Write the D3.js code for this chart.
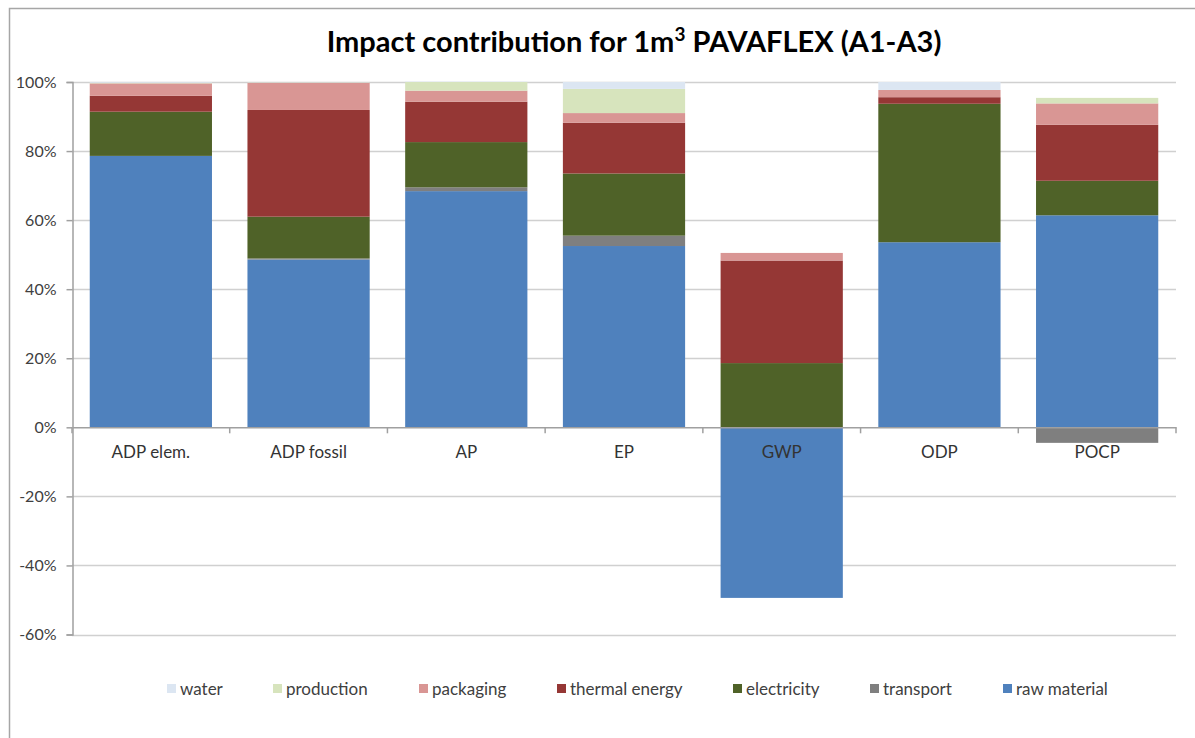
<!DOCTYPE html>
<html><head><meta charset="utf-8">
<script src="https://cdn.jsdelivr.net/npm/d3@7/dist/d3.min.js"></script>
<style>body{margin:0;background:#fff}svg{display:block}</style>
</head><body><svg id="c" width="1195" height="738"></svg>
<script>
const categories = ["ADP elem.","ADP fossil","AP","EP","GWP","ODP","POCP"];
const seriesNames = ["raw material","transport","electricity","thermal energy","packaging","production","water"];
const rawMaterial   = [78.6, 48.6, 68.4, 52.5, -49.4, 53.6, 61.4];
const transport     = [0.0,  0.3,  1.1,  3.0,  0.0,   0.0,  -4.5];
const electricity   = [12.8, 12.1, 13.1, 18.0, 18.6,  40.1, 10.0];
const thermalEnergy = [4.6,  30.9, 11.7, 14.7, 29.7,  1.9,  16.2];
const packaging     = [3.6,  7.9,  3.2,  2.8,  2.2,   2.1,  6.2];
const production    = [0.2,  0.1,  2.5,  7.0,  0.0,   0.0,  1.6];
const water         = [0.2,  0.1,  0.1,  2.0,  0.0,   2.3,  0.0];
const yTicks = [-60,-40,-20,0,20,40,60,80,100];
const legendOrder = ["water","production","packaging","thermal energy","electricity","transport","raw material"];
const colors = {"raw material":"#4F81BD","transport":"#7F7F7F","electricity":"#4F6228","thermal energy":"#953735","packaging":"#D99694","production":"#D7E4BD","water":"#DCE6F2"};

const seriesVals = [rawMaterial, transport, electricity, thermalEnergy, packaging, production, water];
const table = categories.map((c,i)=>{const o={cat:c}; seriesNames.forEach((s,j)=>o[s]=seriesVals[j][i]); return o;});

const svg = d3.select("#c");
const font = "Lato, 'Open Sans', sans-serif";
// outer frame
svg.append("path").attr("d","M9.5,738 V8.5 H1195").attr("fill","none").attr("stroke","#A6A6A6").attr("stroke-width",1.5);

const L=72, R=1176, T=82, B=634.5;
const x = d3.scaleBand().domain(categories).range([L,R]).paddingInner(0.225).paddingOuter(0.1125);
const y = d3.scaleLinear().domain([-60,100]).range([B,T]);

// gridlines
svg.append("g").selectAll("line").data(yTicks.filter(t=>t!==0)).join("line")
  .attr("x1",L).attr("x2",R).attr("y1",d=>Math.round(y(d))+0.5).attr("y2",d=>Math.round(y(d))+0.5)
  .attr("stroke","#D0D0D0").attr("stroke-width",1.5);

// bars
const stack = d3.stack().keys(seriesNames).offset(d3.stackOffsetDiverging);
const layers = stack(table);
svg.append("g").selectAll("g").data(layers).join("g").attr("fill",d=>colors[d.key])
  .selectAll("rect").data(d=>d).join("rect")
  .attr("x",d=>x(d.data.cat)).attr("width",x.bandwidth())
  .attr("y",d=>y(Math.max(d[0],d[1]))).attr("height",d=>Math.abs(y(d[0])-y(d[1])));

// y axis
const yAxis = d3.axisLeft(y).tickValues(yTicks).tickFormat(d=>d+"%").tickSize(6).tickPadding(10);
const gy = svg.append("g").attr("transform",`translate(${L+0.5},0)`).call(yAxis);
gy.select(".domain").attr("stroke","#A0A0A0").attr("stroke-width",1.5);
gy.selectAll(".tick line").attr("stroke","#A0A0A0").attr("stroke-width",1.5);
gy.selectAll("text").attr("font-family",font).attr("font-size",16).attr("fill","#404040");

// x axis at 0
const xAxis = d3.axisBottom(x).tickSize(0).tickPadding(19);
const gx = svg.append("g").attr("transform",`translate(0,${y(0)})`).call(xAxis);
gx.select(".domain").attr("stroke","#A0A0A0").attr("stroke-width",1.5);
gx.selectAll("text").attr("font-family",font).attr("font-size",17).attr("fill","#333");
// category boundary ticks
const bounds = categories.map(c=>x(c)-x.step()*x.paddingInner()/2).concat([R]);
svg.append("g").selectAll("line").data(bounds).join("line")
  .attr("x1",d=>d).attr("x2",d=>d).attr("y1",y(0)).attr("y2",y(0)+6)
  .attr("stroke","#A0A0A0").attr("stroke-width",1.5);

// title
const title = svg.append("text").attr("x",634).attr("y",52).attr("text-anchor","middle")
  .attr("font-family",font).attr("font-weight","bold").attr("font-size",29).attr("fill","#000");
title.append("tspan").text("Impact contribution for 1m");
title.append("tspan").text("3").attr("font-size",19).attr("dy",-11);
title.append("tspan").text(" PAVAFLEX (A1-A3)").attr("dy",11);

// legend
const legX = [167,273,419,557,733,870,1003];
const lg = svg.append("g").selectAll("g").data(legendOrder).join("g")
  .attr("transform",(d,i)=>`translate(${legX[i]},689)`);
lg.append("rect").attr("x",0).attr("y",-5).attr("width",9).attr("height",9).attr("fill",d=>colors[d]);
lg.append("text").attr("x",13).attr("y",6).text(d=>d)
  .attr("font-family",font).attr("font-size",17).attr("fill","#404040");
</script></body></html>
